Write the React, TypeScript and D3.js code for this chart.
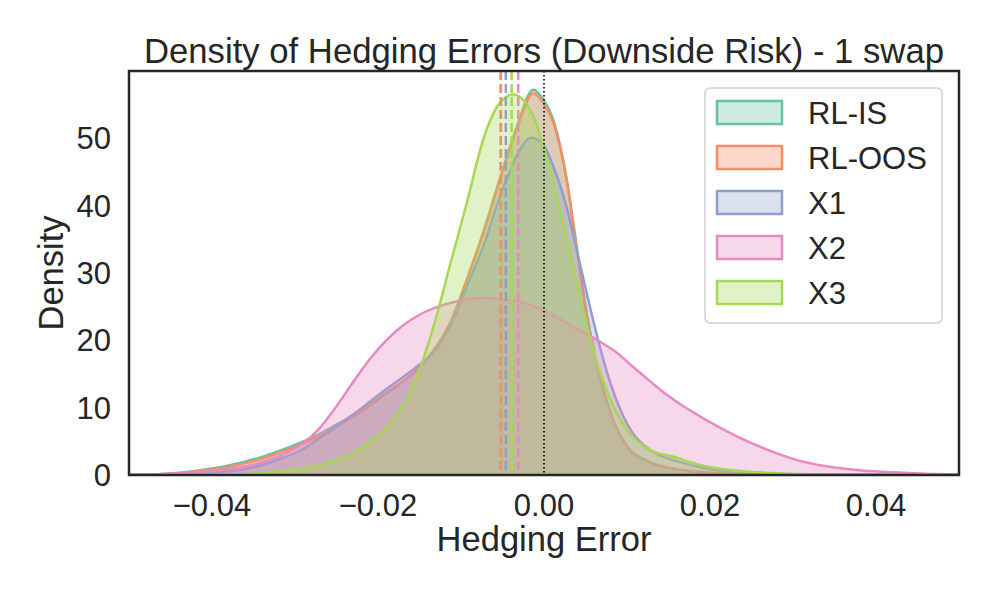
import React from "react";
import * as d3 from "d3";

const seriesNames = ["RL-IS", "RL-OOS", "X1", "X2", "X3"];
const seriesColors = ["#66c2a5", "#fc8d62", "#8da0cb", "#e78ac3", "#a6d854"];

const rlIsX = [-0.05, -0.046, -0.042, -0.038, -0.034, -0.031, -0.028, -0.0254, -0.0224, -0.0194, -0.0153, -0.0134, -0.0113, -0.0093, -0.0073, -0.0053, -0.0033, -0.0013, -0.0001, 0.0011, 0.0027, 0.0039, 0.0051, 0.0063, 0.008, 0.01, 0.0128, 0.0168, 0.022, 0.03, 0.05];
const rlIsY = [0.0, 0.15, 0.6, 1.4, 2.7, 4.0, 5.5, 7.2, 9.4, 11.9, 15.7, 18.3, 22.6, 29.0, 36.1, 44.1, 51.6, 57.2, 55.8, 52.8, 44.2, 34.3, 24.3, 16.8, 9.3, 4.3, 1.9, 0.7, 0.2, 0.05, 0.0];

const rlOosX = [-0.05, -0.046, -0.042, -0.038, -0.034, -0.031, -0.028, -0.0254, -0.0224, -0.0194, -0.0153, -0.0134, -0.0113, -0.0093, -0.0073, -0.0053, -0.0033, -0.0013, -0.0001, 0.0011, 0.0027, 0.0039, 0.0051, 0.0063, 0.008, 0.01, 0.0128, 0.0168, 0.022, 0.03, 0.05];
const rlOosY = [0.0, 0.1, 0.5, 1.2, 2.4, 3.7, 5.2, 6.9, 9.1, 11.7, 15.6, 18.3, 22.6, 29.0, 36.0, 43.9, 51.3, 56.7, 55.3, 52.4, 43.9, 34.0, 24.1, 16.7, 9.2, 4.2, 1.8, 0.7, 0.2, 0.05, 0.0];

const x1X = [-0.05, -0.045, -0.04, -0.0354, -0.032, -0.0294, -0.0264, -0.0234, -0.0194, -0.0153, -0.0134, -0.0113, -0.0093, -0.0073, -0.0053, -0.0045, -0.0033, -0.0015, -0.0001, 0.0011, 0.0027, 0.0043, 0.0059, 0.0076, 0.0092, 0.0107, 0.0128, 0.0168, 0.0208, 0.026, 0.035, 0.05];
const x1Y = [0.0, 0.1, 0.4, 1.0, 2.3, 3.6, 6.0, 8.6, 12.4, 16.1, 18.1, 22.1, 28.0, 34.0, 41.4, 43.9, 47.4, 50.1, 49.1, 45.9, 39.9, 31.5, 23.1, 15.2, 9.7, 6.2, 3.7, 1.8, 0.7, 0.2, 0.05, 0.0];

const x2X = [-0.05, -0.045, -0.041, -0.038, -0.035, -0.033, -0.031, -0.029, -0.027, -0.025, -0.023, -0.021, -0.019, -0.017, -0.015, -0.012, -0.0073, -0.0033, -0.0001, 0.0027, 0.0059, 0.0085, 0.0107, 0.0128, 0.0148, 0.0168, 0.0188, 0.0228, 0.0268, 0.03, 0.034, 0.038, 0.042, 0.046, 0.05];
const x2Y = [0.02, 0.2, 0.5, 0.9, 1.5, 2.3, 3.3, 4.7, 7.0, 10.2, 13.8, 17.2, 20.0, 22.2, 23.8, 25.3, 26.3, 25.8, 24.5, 22.6, 20.4, 18.4, 16.1, 13.9, 11.9, 10.2, 8.7, 6.0, 3.8, 2.4, 1.3, 0.7, 0.4, 0.2, 0.1];

const x3X = [-0.05, -0.04, -0.035, -0.031, -0.027, -0.023, -0.019, -0.0175, -0.016, -0.0145, -0.0129, -0.0113, -0.0093, -0.0073, -0.0053, -0.0037, -0.0013, -0.0001, 0.0015, 0.0031, 0.0047, 0.0063, 0.008, 0.01, 0.0128, 0.0156, 0.0188, 0.0228, 0.03, 0.04, 0.05];
const x3Y = [0.0, 0.05, 0.2, 0.6, 1.5, 3.3, 7.0, 9.2, 12.6, 17.4, 23.8, 31.3, 40.4, 49.9, 55.3, 56.5, 53.3, 48.9, 41.4, 33.0, 24.6, 17.1, 11.2, 6.7, 3.7, 2.7, 1.5, 0.7, 0.2, 0.05, 0.0];

const seriesX = [rlIsX, rlOosX, x1X, x2X, x3X];
const seriesY = [rlIsY, rlOosY, x1Y, x2Y, x3Y];

// dashed reference lines (series means)
const meanLines = [-0.0052, -0.0052, -0.0046, -0.0031, -0.0039];

const xTicks = [-0.04, -0.02, 0.0, 0.02, 0.04];
const yTicks = [0, 10, 20, 30, 40, 50];

const title = "Density of Hedging Errors (Downside Risk) - 1 swap";
const xLabel = "Hedging Error";
const yLabel = "Density";

const W = 997;
const H = 598;
const M = { left: 129, right: 959, top: 71, bottom: 475 };
const FONT = "'Liberation Sans', Arial, Helvetica, sans-serif";
const TEXT = "#262626";

export default function App() {
  const x = d3.scaleLinear().domain([-0.05, 0.05]).range([M.left, M.right]);
  const y = d3.scaleLinear().domain([0, 60]).range([M.bottom, M.top]);
  const fmt = d3.format(".2f");

  const area = d3
    .area<[number, number]>()
    .x((d) => x(d[0]))
    .y0(y(0))
    .y1((d) => y(d[1]))
    .curve(d3.curveMonotoneX);
  const line = d3
    .line<[number, number]>()
    .x((d) => x(d[0]))
    .y((d) => y(d[1]))
    .curve(d3.curveMonotoneX);

  const legendX = 705;
  const legendY = 88;
  const legendW = 237;
  const legendH = 235;
  const rowH = 45;

  return (
    <svg
      width={W}
      height={H}
      style={{ position: "absolute", left: 0, top: 0, display: "block", background: "#fff" }}
      fontFamily={FONT}
    >
      <rect x={0} y={0} width={W} height={H} fill="#fff" />
      <defs>
        <clipPath id="plotclip">
          <rect x={M.left} y={M.top} width={M.right - M.left} height={M.bottom - M.top} />
        </clipPath>
      </defs>
      <g clipPath="url(#plotclip)">
        {seriesNames.map((name, i) => {
          const pts: [number, number][] = seriesX[i].map((v, j) => [v, seriesY[i][j]]);
          return (
            <g key={name}>
              <path d={area(pts) || ""} fill={seriesColors[i]} fillOpacity={0.33} stroke="none" />
              <path d={line(pts) || ""} fill="none" stroke={seriesColors[i]} strokeWidth={2.5} strokeLinejoin="round" />
            </g>
          );
        })}
        {meanLines.map((m, i) => (
          <line
            key={"m" + i}
            x1={x(m)}
            x2={x(m)}
            y1={M.top}
            y2={M.bottom}
            stroke={seriesColors[i]}
            strokeWidth={2.5}
            strokeDasharray="9,4"
          />
        ))}
        <line
          x1={x(0)}
          x2={x(0)}
          y1={M.top}
          y2={M.bottom}
          stroke="#000"
          strokeWidth={1.6}
          strokeDasharray="1.6,2.4"
        />
      </g>
      <rect
        x={M.left}
        y={M.top}
        width={M.right - M.left}
        height={M.bottom - M.top}
        fill="none"
        stroke={TEXT}
        strokeWidth={2.5}
      />
      {xTicks.map((t) => (
        <text key={"xt" + t} x={x(t)} y={516} textAnchor="middle" fontSize={31} fill={TEXT}>
          {fmt(t)}
        </text>
      ))}
      {yTicks.map((t) => (
        <text key={"yt" + t} x={111} y={y(t) + 11} textAnchor="end" fontSize={31} fill={TEXT}>
          {t}
        </text>
      ))}
      <text x={x(0)} y={551} textAnchor="middle" fontSize={34.5} fill={TEXT}>
        {xLabel}
      </text>
      <text
        transform={`translate(63, ${(M.top + M.bottom) / 2}) rotate(-90)`}
        textAnchor="middle"
        fontSize={34.5}
        fill={TEXT}
      >
        {yLabel}
      </text>
      <text x={(M.left + M.right) / 2} y={63} textAnchor="middle" fontSize={34.7} fill={TEXT}>
        {title}
      </text>
      <g>
        <rect
          x={legendX}
          y={legendY}
          width={legendW}
          height={legendH}
          rx={5}
          ry={5}
          fill="#fff"
          fillOpacity={0.8}
          stroke="#d0d0d0"
          strokeWidth={1.5}
        />
        {seriesNames.map((name, i) => (
          <g key={"lg" + name} transform={`translate(${legendX}, ${legendY + 12 + i * rowH})`}>
            <rect
              x={12}
              y={1}
              width={65}
              height={23}
              fill={seriesColors[i]}
              fillOpacity={0.33}
              stroke={seriesColors[i]}
              strokeWidth={2.5}
            />
            <text x={103} y={24} fontSize={31} fill={TEXT}>
              {name}
            </text>
          </g>
        ))}
      </g>
    </svg>
  );
}
